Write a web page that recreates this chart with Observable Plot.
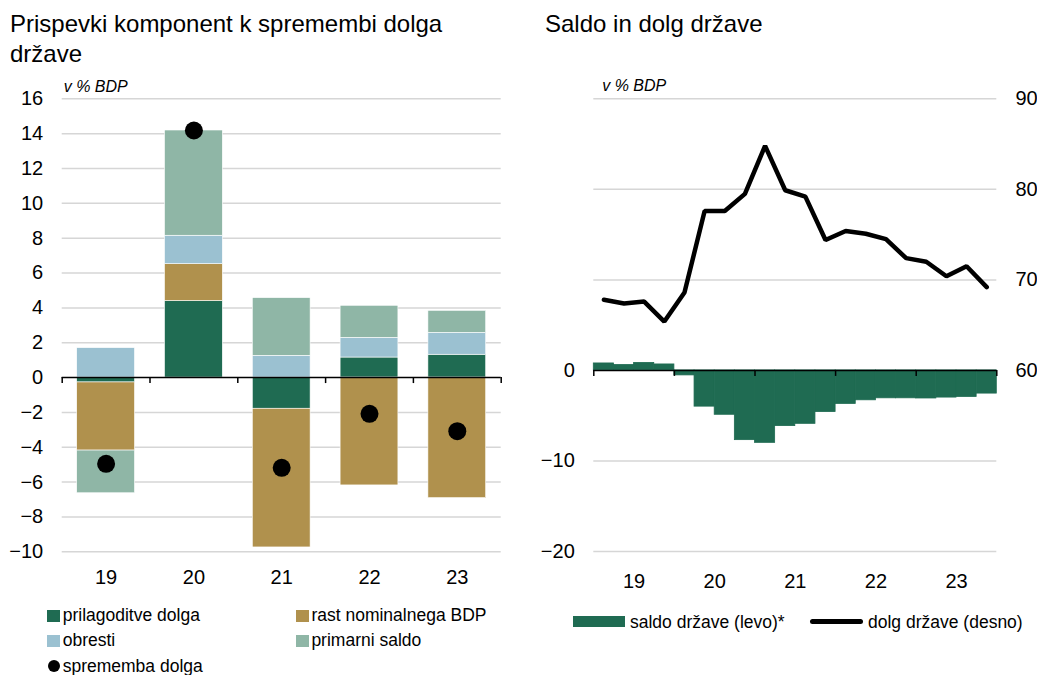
<!DOCTYPE html>
<html><head><meta charset="utf-8">
<script src="https://cdn.jsdelivr.net/npm/d3@7"></script>
<script src="https://cdn.jsdelivr.net/npm/@observablehq/plot@0.6"></script>
<style>
body{margin:0;background:#fff;}
#root{position:relative;width:1037px;height:675px;font-family:"Liberation Sans",Arial,sans-serif;color:#000;overflow:hidden;background:#fff}
.t{position:absolute;font-size:24px;line-height:30px;white-space:nowrap}
.lg{position:absolute;font-size:17.5px;line-height:20px;white-space:nowrap}
.sw{position:absolute}
.plot{position:absolute;top:0}
</style></head><body><div id="root"></div>
<script>
// ---------- data: left chart ----------
const years = ["19", "20", "21", "22", "23"];
const prilagoditve = [-0.28, 4.39, -1.79, 1.15, 1.31];
const rast = [-3.91, 2.12, -7.96, -6.19, -6.92];
const obresti = [1.69, 1.63, 1.25, 1.13, 1.26];
const primarni = [-2.45, 6.04, 3.31, 1.84, 1.26];
const sprememba = [-4.95, 14.18, -5.18, -2.08, -3.08];
const seriesNames = ["prilagoditve dolga", "rast nominalnega BDP", "obresti", "primarni saldo"];
const seriesColors = ["#1f6b52", "#b0914d", "#9bc1d1", "#8fb6a6"];
const dotName = "sprememba dolga";
const leftTicks = [-10, -8, -6, -4, -2, 0, 2, 4, 6, 8, 10, 12, 14, 16];

// ---------- data: right chart ----------
const quarters = ["2019Q1","2019Q2","2019Q3","2019Q4","2020Q1","2020Q2","2020Q3","2020Q4",
  "2021Q1","2021Q2","2021Q3","2021Q4","2022Q1","2022Q2","2022Q3","2022Q4",
  "2023Q1","2023Q2","2023Q3","2023Q4"];
const saldo = [0.77, 0.6, 0.83, 0.66, -0.55, -4.0, -4.9, -7.7, -8.0, -6.15, -5.9, -4.6,
  -3.7, -3.3, -3.08, -3.08, -3.1, -3.0, -2.93, -2.56];
const dolg = [67.8, 67.4, 67.6, 65.4, 68.6, 77.6, 77.6, 79.5, 84.8, 79.9, 79.2, 74.4,
  75.4, 75.1, 74.5, 72.4, 72.0, 70.4, 71.5, 69.2];
const saldoTicks = [-20, -10, 0];
const dolgTicks = [60, 70, 80, 90];
const dolgBase = 60; // right axis value aligned with left-axis zero
const saldoName = "saldo države (levo)*";
const dolgName = "dolg države (desno)";
const saldoColor = "#1f6b52";

const root = document.getElementById("root");
const tickFont = '"Liberation Sans Narrow","Arial Narrow","Liberation Sans",sans-serif';

// ---------- left chart ----------
const seriesVals = [prilagoditve, rast, obresti, primarni];
const rows = [];
years.forEach((y, i) => seriesNames.forEach((s, k) => rows.push({i, year: y, series: s, value: seriesVals[k][i]})));
const dots = years.map((y, i) => ({i, v: sprememba[i]}));
const boundaries = d3.range(years.length + 1);

const left = Plot.plot({
  width: 520, height: 600,
  marginLeft: 61.7, marginRight: 19.3, marginTop: 98.3, marginBottom: 48.7,
  style: {fontFamily: tickFont, fontSize: "20px", background: "transparent", overflow: "visible"},
  x: {domain: [0, years.length], axis: null},
  y: {domain: [-10, 16], axis: null},
  color: {domain: seriesNames, range: seriesColors},
  marks: [
    Plot.ruleY(leftTicks.filter(v => v !== 0), {stroke: "#d6d6d6", strokeWidth: 1.5}),
    Plot.rectY(rows, {x1: d => d.i, x2: d => d.i + 1, y: "value", fill: "series", insetLeft: 15, insetRight: 15, stroke: "#ffffff", strokeWidth: 0.6}),
    Plot.ruleY([0], {stroke: "#000", strokeWidth: 1.5}),
    Plot.ruleX(boundaries, {y1: 0, y2: 0, insetBottom: -6, stroke: "#000", strokeWidth: 1.5}),
    Plot.dot(dots, {x: d => d.i + 0.5, y: "v", r: 9, fill: "#000"}),
    Plot.axisY({ticks: leftTicks, tickSize: 0, tickPadding: 19, label: null, fontSize: 20}),
    Plot.axisX({ticks: years.map((y, i) => i + 0.5), tickFormat: v => years[Math.floor(v)], tickSize: 0, tickPadding: 17.5, label: null, fontSize: 20}),
    Plot.text(["v % BDP"], {frameAnchor: "top-left", dx: 1.5, dy: -7, lineAnchor: "bottom", textAnchor: "start", fontStyle: "italic", fontSize: 16, fontFamily: "Liberation Sans"})
  ]
});
left.classList.add("plot");
left.style.left = "0px";
root.appendChild(left);

// ---------- right chart ----------
const saldoRows = quarters.map((q, i) => ({q: i, name: q, v: saldo[i]}));
const dolgRows = quarters.map((q, i) => ({q: i, name: q, v: dolg[i]}));
const yearBounds = d3.range(years.length + 1).map(i => i * 4);

const right = Plot.plot({
  width: 517, height: 600,
  marginLeft: 73.3, marginRight: 40.7, marginTop: 98.3, marginBottom: 49,
  style: {fontFamily: tickFont, fontSize: "20px", background: "transparent", overflow: "visible"},
  x: {domain: [0, quarters.length], axis: null},
  y: {domain: [-20, 30], axis: null},
  marks: [
    Plot.ruleY([-20, -10, 10, 20, 30], {stroke: "#d6d6d6", strokeWidth: 1.5}),
    Plot.rectY(saldoRows, {x1: "q", x2: d => d.q + 1, y: "v", fill: saldoColor, stroke: saldoColor, strokeWidth: 0.8}),
    Plot.ruleY([0], {stroke: "#000", strokeWidth: 1.5}),
    Plot.ruleX(yearBounds, {y1: 0, y2: 0, insetBottom: -6, stroke: "#000", strokeWidth: 1.5}),
    Plot.line(dolgRows, {x: d => d.q + 0.5, y: d => d.v - dolgBase, stroke: "#000", strokeWidth: 4.5, strokeLinejoin: "miter", strokeLinecap: "round"}),
    Plot.axisY({anchor: "left", ticks: saldoTicks, tickSize: 0, tickPadding: 19, label: null, fontSize: 20}),
    Plot.axisY({anchor: "right", ticks: dolgTicks.map(v => v - dolgBase), tickFormat: v => v + dolgBase, tickSize: 0, tickPadding: 18.7, label: null, fontSize: 20}),
    Plot.axisX({ticks: years.map((y, i) => i * 4 + 2), tickFormat: v => years[Math.floor(v / 4)], tickSize: 0, tickPadding: 21.8, label: null, fontSize: 20}),
    Plot.text(["v % BDP"], {frameAnchor: "top-left", dx: 8.4, dy: -7.5, lineAnchor: "bottom", textAnchor: "start", fontStyle: "italic", fontSize: 16, fontFamily: "Liberation Sans"})
  ]
});
right.classList.add("plot");
right.style.left = "520px";
root.appendChild(right);

// ---------- titles ----------
function addDiv(cls, text, x, y, extra) {
  const d = document.createElement("div");
  d.className = cls;
  d.innerHTML = text;
  d.style.left = x + "px";
  d.style.top = y + "px";
  if (extra) Object.assign(d.style, extra);
  root.appendChild(d);
  return d;
}
addDiv("t", "Prispevki komponent k spremembi dolga<br>države", 10, 9.4);
addDiv("t", "Saldo in dolg države", 545, 9.4);

// ---------- left legend ----------
const legendPos = [
  {x: 47.3, row: 0}, {x: 296, row: 0}, {x: 47.3, row: 1}, {x: 296, row: 1}
];
const rowBase = [620.7, 646.2, 671.7];
seriesNames.forEach((s, k) => {
  const p = legendPos[k];
  const b = rowBase[p.row];
  addDiv("sw", "", p.x, b - 11, {width: "13px", height: "12px", background: seriesColors[k]});
  addDiv("lg", s, p.x + 15.4, b - 16.1);
});
addDiv("sw", "", 47.5, rowBase[2] - 11.5, {width: "12px", height: "12px", background: "#000", borderRadius: "50%"});
addDiv("lg", dotName, 62.7, rowBase[2] - 16.1);

// ---------- right legend ----------
addDiv("sw", "", 573.3, 616, {width: "52px", height: "11px", background: saldoColor});
addDiv("lg", saldoName, 630, 628 - 16.1);
addDiv("sw", "", 810, 619.3, {width: "53px", height: "5px", background: "#000", borderRadius: "2.5px"});
addDiv("lg", dolgName, 868, 628 - 16.1);
</script>
</body></html>
